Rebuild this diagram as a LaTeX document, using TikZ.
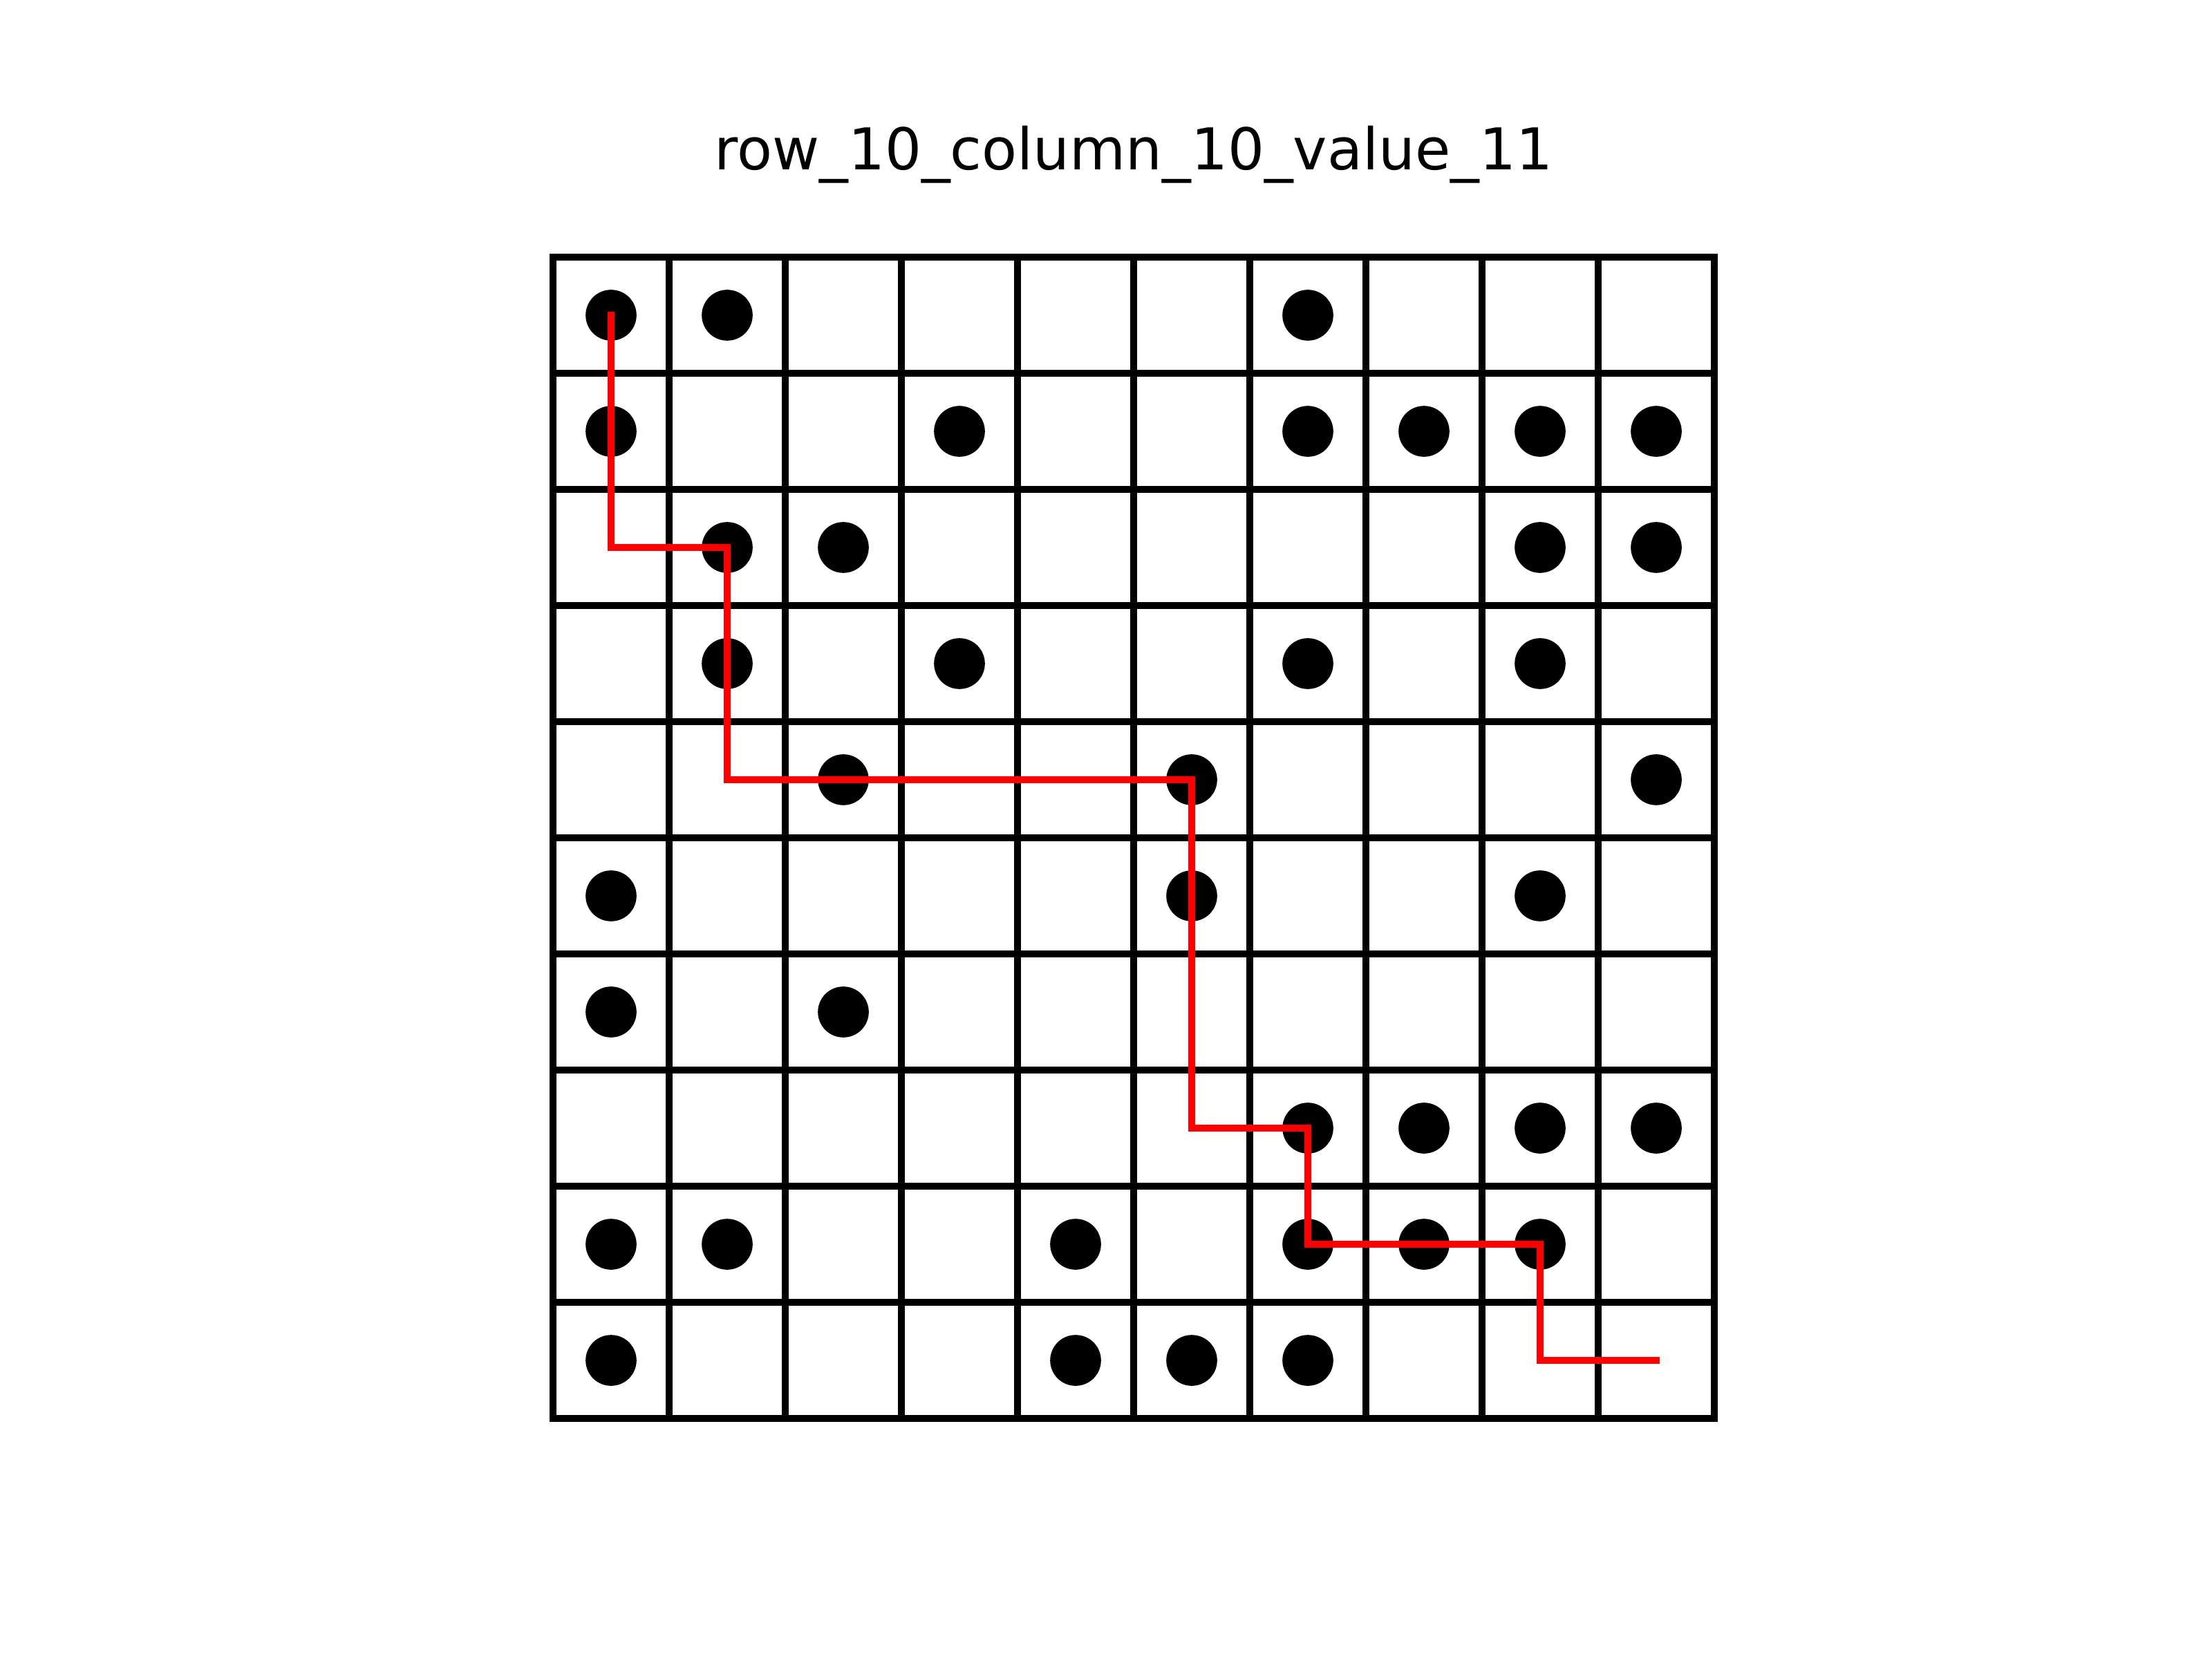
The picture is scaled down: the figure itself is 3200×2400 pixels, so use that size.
\documentclass[tikz,border=0pt]{standalone}
\usepackage{fontspec}
\setmainfont{DejaVu Sans}
\begin{document}
\begin{tikzpicture}[x=0.144pt,y=-0.144pt,
  gridline/.style={line width=1.5pt,black,line cap=rect},
  dot/.style={circle,fill=black,inner sep=0pt,minimum size=10.6pt},
  pathline/.style={line width=1.5pt,red,line join=miter}]
\useasboundingbox (0,0) rectangle (3200,2400);
\node[anchor=base,font=\fontsize{12pt}{14pt}\selectfont] (title) at (1640,246) {row\_10\_column\_10\_value\_11};
% grid
\foreach \i in {0,...,10}{
  \draw[gridline] (800+168*\i,372) -- (800+168*\i,2052);
  \draw[gridline] (800,372+168*\i) -- (2480,372+168*\i);
}
% dots: row/column lists
\foreach \r/\cols in {1/{1,2,7},2/{1,4,7,8,9,10},3/{2,3,9,10},4/{2,4,7,9},5/{3,6,10},6/{1,6,9},7/{1,3},8/{7,8,9,10},9/{1,2,5,7,8,9},10/{1,5,6,7}}{
  \foreach \c in \cols{
    \node[dot] (d\r-\c) at (716+168*\c,288+168*\r) {};
  }
}
% red path
\coordinate (p0) at (884,451);
\coordinate (p1) at (884,792);
\coordinate (p2) at (1052,792);
\coordinate (p3) at (1052,1128);
\coordinate (p4) at (1724,1128);
\coordinate (p5) at (1724,1632);
\coordinate (p6) at (1892,1632);
\coordinate (p7) at (1892,1800);
\coordinate (p8) at (2228,1800);
\coordinate (p9) at (2228,1968);
\coordinate (p10) at (2401,1968);
\draw[pathline] (p0) -- (p1) -- (p2) -- (p3) -- (p4) -- (p5) -- (p6) -- (p7) -- (p8) -- (p9) -- (p10);
\end{tikzpicture}
\end{document}
